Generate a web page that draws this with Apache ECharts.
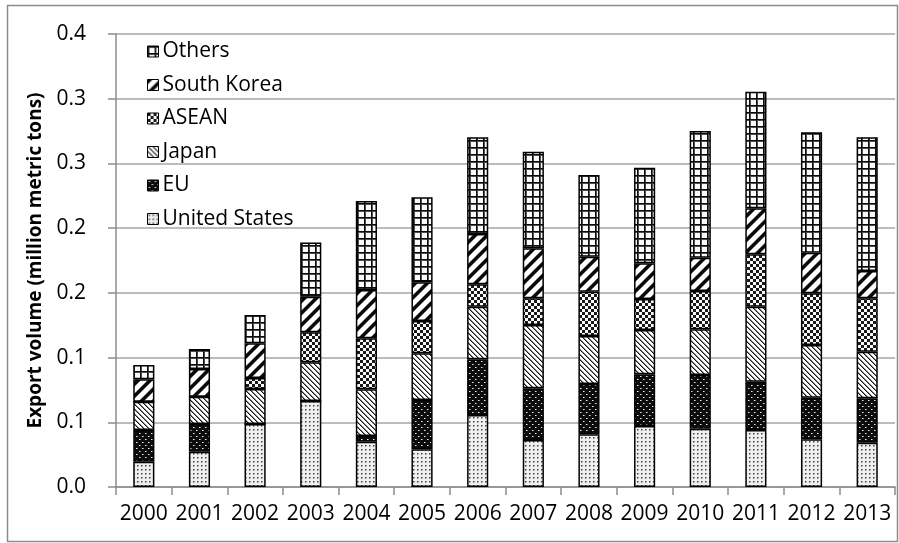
<!DOCTYPE html>
<html>
<head>
<meta charset="utf-8">
<script src="https://cdn.jsdelivr.net/npm/echarts@6/dist/echarts.min.js"></script>
<style>
  html, body { margin: 0; padding: 0; background: #ffffff; }
  #chart { width: 899px; height: 543px; }
</style>
</head>
<body>
<div id="chart"></div>
<script>
// Export volume by destination (million metric tons)
const years = ['2000', '2001', '2002', '2003', '2004', '2005', '2006', '2007', '2008', '2009', '2010', '2011', '2012', '2013'];
const unitedStates = [0.0195, 0.0273, 0.0487, 0.0664, 0.0350, 0.0291, 0.0556, 0.0363, 0.0407, 0.0471, 0.0450, 0.0440, 0.0368, 0.0342];
const eu           = [0.0245, 0.0214, 0.0000, 0.0000, 0.0044, 0.0381, 0.0431, 0.0400, 0.0389, 0.0400, 0.0415, 0.0374, 0.0322, 0.0343];
const japan        = [0.0219, 0.0211, 0.0270, 0.0299, 0.0361, 0.0361, 0.0406, 0.0489, 0.0371, 0.0342, 0.0353, 0.0579, 0.0407, 0.0360];
const asean        = [0.0000, 0.0000, 0.0085, 0.0232, 0.0394, 0.0250, 0.0173, 0.0206, 0.0342, 0.0240, 0.0296, 0.0405, 0.0400, 0.0413];
const southKorea   = [0.0173, 0.0214, 0.0268, 0.0275, 0.0373, 0.0299, 0.0389, 0.0386, 0.0270, 0.0275, 0.0258, 0.0355, 0.0313, 0.0211];
const others       = [0.0111, 0.0154, 0.0219, 0.0420, 0.0688, 0.0656, 0.0747, 0.0747, 0.0632, 0.0739, 0.0979, 0.0901, 0.0930, 0.1033];
const yTickLabels  = ['0.0', '0.1', '0.1', '0.2', '0.2', '0.3', '0.3', '0.4'];

// Small greyscale tiles used as repeating fill patterns
function makeTile(w, h, shade) {
  const c = document.createElement('canvas');
  c.width = w; c.height = h;
  const ctx = c.getContext('2d');
  const img = ctx.createImageData(w, h);
  for (let y = 0; y < h; y++) {
    for (let x = 0; x < w; x++) {
      const v = shade(x, y);
      const i = (y * w + x) * 4;
      img.data[i] = v; img.data[i + 1] = v; img.data[i + 2] = v; img.data[i + 3] = 255;
    }
  }
  ctx.putImageData(img, 0, 0);
  return c;
}

const tiles = {
  // fine light-grey dots
  us: makeTile(4, 4, (x, y) => {
    if (x === 1 && y === 1) return 70;
    if ((x === 2 && y === 1) || (x === 1 && y === 2)) return 150;
    if (x === 2 && y === 2) return 200;
    return 240;
  }),
  // white specks on black
  eu: makeTile(6, 6, (x, y) => ((x === 1 && y === 1) || (x === 4 && y === 4)) ? 235 : ((x === 2 && y === 1) || (x === 5 && y === 4) ? 130 : 12)),
  // thin downward diagonal lines
  japan: makeTile(5, 5, (x, y) => { const d = ((x - y) % 5 + 5) % 5; return d === 0 ? 25 : (d === 1 ? 130 : 255); }),
  // small checker board
  asean: makeTile(6, 6, (x, y) => ((Math.floor(x / 3) + Math.floor(y / 3)) % 2 === 0) ? 25 : 250),
  // wide upward diagonal bands
  korea: makeTile(12, 12, (x, y) => { const d = (x + y) % 12; return d < 4 ? 10 : (d === 4 || d === 11 ? 120 : 255); }),
  // square grid
  others: makeTile(7, 7, (x, y) => (x === 0 || y === 0) ? 10 : ((x === 1 || y === 1) ? 80 : 250))
};

const seriesDefs = [
  { name: 'United States', data: unitedStates, tile: tiles.us },
  { name: 'EU', data: eu, tile: tiles.eu },
  { name: 'Japan', data: japan, tile: tiles.japan },
  { name: 'ASEAN', data: asean, tile: tiles.asean },
  { name: 'South Korea', data: southKorea, tile: tiles.korea },
  { name: 'Others', data: others, tile: tiles.others }
];

const font = "'Open Sans', 'Noto Sans', sans-serif";
const axisGrey = '#8c8c8c';

const chart = echarts.init(document.getElementById('chart'), null, { renderer: 'canvas' });

chart.setOption({
  animation: false,
  backgroundColor: '#ffffff',
  textStyle: { fontFamily: font, color: '#000' },
  graphic: [{
    type: 'rect',
    shape: { x: 7.5, y: 5.5, width: 890, height: 536 },
    style: { fill: 'none', stroke: axisGrey, lineWidth: 1.5 },
    silent: true
  }],
  grid: { left: 116, right: 4, top: 34, bottom: 56, containLabel: false },
  legend: {
    orient: 'vertical',
    left: 142,
    top: 36,
    itemWidth: 11,
    itemHeight: 11,
    itemGap: 12.5,
    icon: 'rect',
    data: ['Others', 'South Korea', 'ASEAN', 'Japan', 'EU', 'United States'],
    itemStyle: { borderColor: '#000', borderWidth: 1 },
    textStyle: { fontFamily: font, fontSize: 21, color: '#000', lineHeight: 21, padding: [0, 0, 0, -1] }
  },
  xAxis: {
    type: 'category',
    data: years,
    boundaryGap: true,
    axisLine: { show: true, lineStyle: { color: axisGrey, width: 1.5 } },
    axisTick: { show: true, length: 8, lineStyle: { color: axisGrey, width: 1.5 } },
    axisLabel: { fontFamily: font, fontSize: 21, color: '#000', margin: 17, interval: 0 }
  },
  yAxis: {
    type: 'value',
    min: 0,
    max: 0.35,
    interval: 0.05,
    name: 'Export volume (million metric tons)',
    nameLocation: 'middle',
    nameGap: 68,
    nameTextStyle: { fontFamily: font, fontSize: 19, fontWeight: 'bold', color: '#000' },
    axisLine: { show: true, lineStyle: { color: axisGrey, width: 1.5 } },
    axisTick: { show: true, length: 8, lineStyle: { color: axisGrey, width: 1.5 } },
    axisLabel: {
      fontFamily: font, fontSize: 21, color: '#000', margin: 30,
      formatter: (v, i) => yTickLabels[i] !== undefined ? yTickLabels[i] : v.toFixed(1)
    },
    splitLine: { show: true, lineStyle: { color: '#a6a6a6', width: 1.5 } }
  },
  series: seriesDefs.map(s => ({
    name: s.name,
    type: 'bar',
    stack: 'total',
    barWidth: '38%',
    data: s.data,
    itemStyle: {
      color: { image: s.tile, repeat: 'repeat' },
      borderColor: '#000',
      borderWidth: 1.5
    },
    emphasis: { disabled: true }
  }))
});
</script>
</body>
</html>
